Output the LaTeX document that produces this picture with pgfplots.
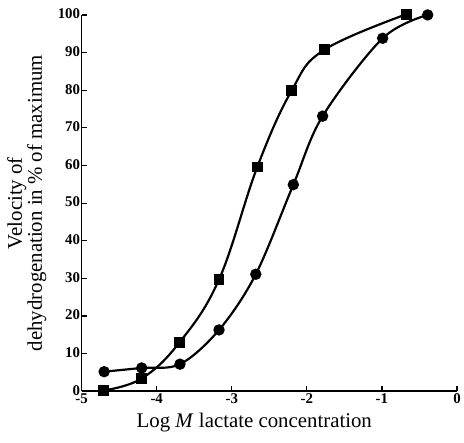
\documentclass[border=0pt]{standalone}
\usepackage{fontspec}
\setmainfont{Liberation Serif}
\usepackage{pgfplots}
\pgfplotsset{compat=1.18}

\begin{document}
\begin{tikzpicture}[x=1bp,y=1bp]
\begin{axis}[
  scale only axis,
  width=377bp, height=378bp,
  xmin=-5, xmax=0, ymin=0, ymax=100,
  xtick={-5,-4,...,0}, ytick={0,10,...,100},
  axis lines=left,
  axis line style={line width=1.6pt,-},
  tick align=inside,
  major tick length=5pt,
  tick style={line width=1.2pt,black},
  /pgf/number format/assume math mode=true,
  tick label style={font=\fontsize{15}{16}\selectfont\bfseries},
  xticklabel style={yshift=1pt},
  yticklabel style={xshift=2pt,yshift=1pt},
  label style={font=\fontsize{21}{18}\selectfont},
  xlabel={Log \textit{M} lactate concentration},
  xlabel style={at={(axis description cs:0.46,-0.084)},anchor=center},
  ylabel={\begin{tabular}{c}Velocity of\\dehydrogenation in \% of maximum\end{tabular}},
  ylabel style={at={(axis description cs:-0.145,0.5)},anchor=center},
  clip=false,
]
% circles
\addplot[black,line width=2.2pt,smooth,tension=0.55,mark=*,mark size=4.6pt]
  coordinates {(-4.70,5.2) (-4.20,6.2) (-3.69,7.2) (-3.17,16.3) (-2.68,31.1)
               (-2.18,54.9) (-1.79,73.1) (-0.99,93.8) (-0.39,100)};
% squares
\addplot[black,line width=2.2pt,smooth,tension=0.65,mark=square*,mark size=4.4pt]
  coordinates {(-4.71,0.2) (-4.20,3.4) (-3.70,12.9) (-3.17,29.7) (-2.66,59.6)
               (-2.20,80.0) (-1.77,90.7) (-0.67,100.2)};
\end{axis}
% page margins as in the reference
\path ([shift={(-82bp,-51bp)}]current axis.south west)
  rectangle ([shift={(5bp,15bp)}]current axis.north east);
\end{tikzpicture}
\end{document}
